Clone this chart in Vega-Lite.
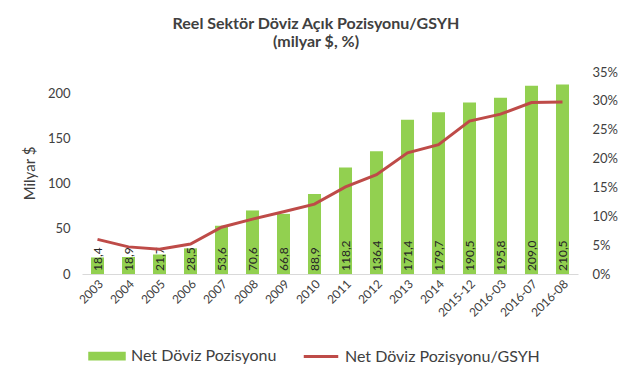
{
  "$schema": "https://vega.github.io/schema/vega-lite/v6.json",
  "autosize": {"type": "none"},
  "width": 496,
  "height": 202,
  "padding": {"left": 82, "top": 72, "right": 52, "bottom": 105},
  "background": "white",
  "config": {
    "view": {"stroke": null},
    "font": "Lato",
    "locale": {"number": {"decimal": ",", "thousands": ".", "grouping": [3], "currency": ["", " $"]}}
  },
  "title": {
    "text": ["Reel Sektör Döviz Açık Pozisyonu/GSYH", "(milyar $, %)"],
    "font": "Lato",
    "fontSize": 16,
    "fontWeight": "bold",
    "color": "#404040",
    "lineHeight": 18,
    "offset": 16,
    "dx": -14
  },
  "data": {
    "values": [
      {"period": "2003", "amount": 18.4, "ratio": 0.060},
      {"period": "2004", "amount": 18.9, "ratio": 0.047},
      {"period": "2005", "amount": 21.7, "ratio": 0.043},
      {"period": "2006", "amount": 28.5, "ratio": 0.052},
      {"period": "2007", "amount": 53.6, "ratio": 0.081},
      {"period": "2008", "amount": 70.6, "ratio": 0.095},
      {"period": "2009", "amount": 66.8, "ratio": 0.108},
      {"period": "2010", "amount": 88.9, "ratio": 0.121},
      {"period": "2011", "amount": 118.2, "ratio": 0.151},
      {"period": "2012", "amount": 136.4, "ratio": 0.172},
      {"period": "2013", "amount": 171.4, "ratio": 0.210},
      {"period": "2014", "amount": 179.7, "ratio": 0.224},
      {"period": "2015-12", "amount": 190.5, "ratio": 0.265},
      {"period": "2016-03", "amount": 195.8, "ratio": 0.277},
      {"period": "2016-07", "amount": 209.0, "ratio": 0.297},
      {"period": "2016-08", "amount": 210.5, "ratio": 0.298}
    ]
  },
  "encoding": {
    "x": {
      "field": "period", "type": "ordinal", "sort": null,
      "scale": {"paddingInner": 0.58, "paddingOuter": 0.29},
      "axis": {"title": null, "labelAngle": -45, "labelFontSize": 12, "labelColor": "#404040", "ticks": false, "domainColor": "#d9d9d9", "labelPadding": 4}
    }
  },
  "layer": [
    {
      "layer": [
        {
          "mark": {"type": "bar", "color": "#92D050"},
          "encoding": {
            "y": {
              "field": "amount", "type": "quantitative",
              "scale": {"domain": [0, 224.4], "nice": false},
              "axis": {"title": "Milyar $", "titleFont": "Lato", "titleFontSize": 15, "titleFontWeight": "normal", "titleColor": "#404040", "titlePadding": 10, "values": [0, 50, 100, 150, 200], "grid": false, "domain": false, "ticks": false, "labelFontSize": 13, "labelColor": "#404040", "labelPadding": 12}
            },
            "color": {
              "datum": "Net Döviz Pozisyonu", "type": "nominal",
              "scale": {"domain": ["Net Döviz Pozisyonu", "Net Döviz Pozisyonu/GSYH"], "range": ["#92D050", "#BE4B48"]},
              "legend": {
                "orient": "none", "legendX": 6, "legendY": 265, "direction": "horizontal", "title": null,
                "labelFont": "Lato", "labelFontSize": 16, "labelColor": "#404040", "labelLimit": 400,
                "labelOffset": 5, "columnPadding": 20, "symbolSize": 1190,
                "encode": {
                  "symbols": {
                    "update": {
                      "shape": {"signal": "datum.value === 'Net Döviz Pozisyonu' ? 'M-1,-0.16L1,-0.16L1,0.16L-1,0.16Z' : 'stroke'"},
                      "fill": {"signal": "datum.value === 'Net Döviz Pozisyonu' ? '#92D050' : 'transparent'"},
                      "stroke": {"signal": "datum.value === 'Net Döviz Pozisyonu' ? 'transparent' : '#BE4B48'"},
                      "strokeWidth": {"value": 3},
                      "opacity": {"value": 1},
                      "fillOpacity": {"value": 1},
                      "strokeOpacity": {"value": 1}
                    }
                  }
                }
              }
            }
          }
        },
        {
          "mark": {"type": "text", "angle": -90, "align": "left", "baseline": "middle", "dx": 3, "fontSize": 12, "color": "#262626", "font": "Lato"},
          "encoding": {
            "y": {"datum": 0, "type": "quantitative"},
            "text": {"field": "amount", "type": "quantitative", "format": ".1f"}
          }
        }
      ]
    },
    {
      "mark": {"type": "line", "strokeWidth": 3},
      "encoding": {
        "y": {
          "field": "ratio", "type": "quantitative",
          "scale": {"domain": [0, 0.35], "nice": false},
          "axis": {"orient": "right", "title": null, "format": ".0%", "values": [0, 0.05, 0.1, 0.15, 0.2, 0.25, 0.3, 0.35], "grid": false, "domain": false, "ticks": false, "labelFontSize": 13, "labelColor": "#404040", "labelPadding": 14}
        },
        "color": {"datum": "Net Döviz Pozisyonu/GSYH", "type": "nominal"}
      }
    }
  ],
  "resolve": {"scale": {"y": "independent"}, "axis": {"y": "independent"}}
}
